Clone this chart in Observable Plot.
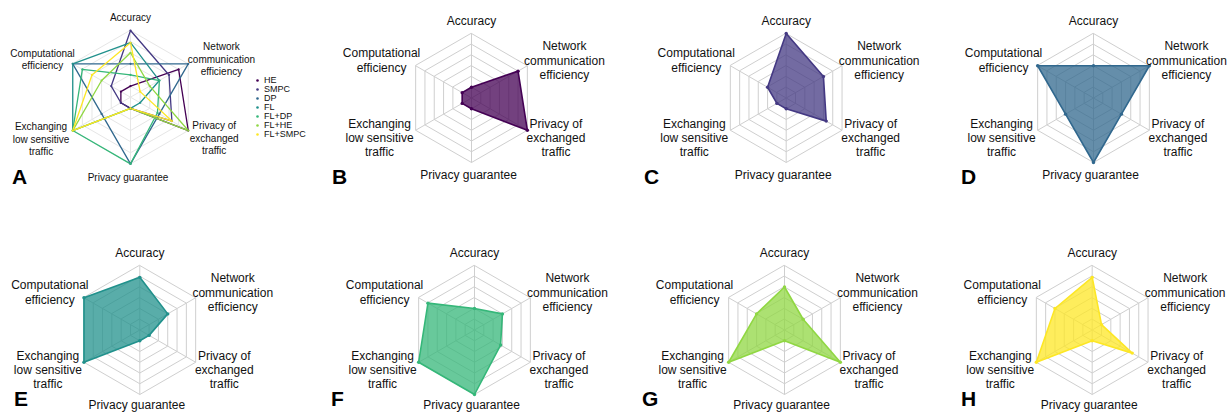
<!DOCTYPE html>
<html>
<head>
<meta charset="utf-8">
<script src="https://cdn.jsdelivr.net/npm/d3@7"></script>
<script src="https://cdn.jsdelivr.net/npm/@observablehq/plot@0.6"></script>
<style>
  html, body { margin: 0; padding: 0; background: #fff; }
  #wrap { position: relative; width: 1229px; height: 412px; overflow: hidden; background: #fff;
          font-family: "Liberation Sans", Arial, sans-serif; color: #000; }
  .panel { position: absolute; }
  .letter { position: absolute; font: bold 21px/0.8 "Liberation Sans", Arial, sans-serif; color: #000; }
</style>
</head>
<body>
<div id="wrap"></div>
<script>
// ---------------- data ----------------
const axisNames = ["Accuracy", "Network communication efficiency", "Privacy of exchanged traffic",
                   "Privacy guarantee", "Exchanging low sensitive traffic", "Computational efficiency"];
const axisLabels = ["Accuracy", "Network\ncommunication\nefficiency", "Privacy of\nexchanged\ntraffic",
                    "Privacy guarantee", "Exchanging\nlow sensitive\ntraffic", "Computational\nefficiency"];
const methods = ["HE", "SMPC", "DP", "FL", "FL+DP", "FL+HE", "FL+SMPC"];
// values per axis, in the order of axisNames (scale 0–6, one grid ring per unit)
const valuesHE     = [1,   5, 6,   1, 1, 1];
const valuesSMPC   = [6,   4, 4.3, 1, 1, 2];
const valuesDP     = [3,   6, 3,   6, 3, 6];
const valuesFL     = [4.9, 3, 1,   1, 6, 6];
const valuesFLDP   = [2,   3, 2.8, 6, 6, 5];
const valuesFLHE   = [4,   2, 6,   1, 6, 3];
const valuesFLSMPC = [4.9, 1, 4.3, 1, 6, 4];
const ringLevels = [1, 2, 3, 4, 5, 6];
const panelLetters = ["A", "B", "C", "D", "E", "F", "G", "H"];
const panelSeries = [methods, ["HE"], ["SMPC"], ["DP"], ["FL"], ["FL+DP"], ["FL+HE"], ["FL+SMPC"]];

const seriesValues = {
  "HE": valuesHE, "SMPC": valuesSMPC, "DP": valuesDP, "FL": valuesFL,
  "FL+DP": valuesFLDP, "FL+HE": valuesFLHE, "FL+SMPC": valuesFLSMPC
};
const MAXV = d3.max(ringLevels);

// ---------------- styling / layout ----------------
const palette = d3.quantize(d3.interpolateViridis, methods.length);
const FONT = "'Liberation Sans', Arial, sans-serif";

// pixel offsets of each axis label from its outer vertex
const labelOffsets = [
  {dx: 0,     dy: -13.5},
  {dx: 37.1,  dy: -5.75},
  {dx: 28.6,  dy: 7.25},
  {dx: -3,    dy: 12},
  {dx: -36.1, dy: 7.25},
  {dx: -34.1, dy: -5.75}
];
const labelOffsetsBottom = labelOffsets.map((o, i) => i === 3 ? {dx: o.dx, dy: 10.3} : o);
const labelOffsetsA = [
  {dx: 0,     dy: -13.3},
  {dx: 33.2,  dy: -5},
  {dx: 25.9,  dy: 7.25},
  {dx: -2.5,  dy: 13.3},
  {dx: -31.7, dy: 8.25},
  {dx: -30.2, dy: -5}
];

const panels = [
  {left: 0,   top: 0,   w: 320, h: 206, cx: 130,   cy: 96.7,  R: 66.7, overview: true},
  {left: 330, top: 0,   w: 300, h: 206, cx: 141,   cy: 97.5,  R: 64.5},
  {left: 640, top: 0,   w: 300, h: 206, cx: 145.7, cy: 97.5,  R: 64.5},
  {left: 930, top: 0,   w: 299, h: 206, cx: 163,   cy: 97.5,  R: 64.5},
  {left: 0,   top: 206, w: 320, h: 206, cx: 139.3, cy: 123.5, R: 64.5, bottom: true},
  {left: 330, top: 206, w: 300, h: 206, cx: 144,   cy: 123.5, R: 64.5, bottom: true},
  {left: 640, top: 206, w: 300, h: 206, cx: 144,   cy: 123.5, R: 64.5, bottom: true},
  {left: 930, top: 206, w: 299, h: 206, cx: 161.7, cy: 123.5, R: 64.5, bottom: true}
];
const letterPos = [
  {x: 12, y: 169.3}, {x: 332, y: 169.3}, {x: 644, y: 169.3}, {x: 961, y: 169.3},
  {x: 14, y: 391.4}, {x: 331, y: 391.4}, {x: 642, y: 391.4}, {x: 961, y: 391.4}
];

const ang = i => i * Math.PI / 3;
const px = (r, i) => r * Math.sin(ang(i));
const py = (r, i) => r * Math.cos(ang(i));

function radar(cfg, series) {
  const k = cfg.R / MAXV;
  const ov = !!cfg.overview;
  const ringPts = ringLevels.flatMap(level => axisNames.map((a, i) => ({level, i})));
  const pts = series.flatMap(m => seriesValues[m].map((v, i) => ({method: m, i, v})));
  const offs = ov ? labelOffsetsA : (cfg.bottom ? labelOffsetsBottom : labelOffsets);
  const gridColor = ov ? "#e6e6e6" : "#cfcfcf";
  const marks = [
    Plot.line(ringPts, {
      x: d => px(d.level, d.i), y: d => py(d.level, d.i), z: "level",
      curve: "linear-closed", stroke: gridColor, strokeWidth: 1
    }),
    Plot.link(axisNames, {
      x1: 0, y1: 0, x2: (d, i) => px(MAXV, i), y2: (d, i) => py(MAXV, i),
      stroke: gridColor, strokeWidth: 1
    }),
    Plot.line(pts, {
      x: d => px(d.v, d.i), y: d => py(d.v, d.i), z: "method",
      stroke: "method", fill: ov ? "none" : "method", fillOpacity: 0.75,
      strokeWidth: ov ? 1.3 : 1.6, curve: "linear-closed", strokeLinejoin: "round"
    }),
    Plot.dot(pts, {
      x: d => px(d.v, d.i), y: d => py(d.v, d.i), fill: "method", r: ov ? 1.1 : 1.7
    }),
    ...axisLabels.map((lab, i) => Plot.text([lab], {
      x: px(MAXV, i), y: py(MAXV, i), text: d => d,
      dx: offs[i].dx, dy: offs[i].dy,
      textAnchor: "middle", lineAnchor: "middle",
      fontSize: ov ? 10 : 12, lineHeight: ov ? 1.23 : 1.17, fill: "#111"
    }))
  ];
  return Plot.plot({
    width: cfg.w, height: cfg.h, margin: 0,
    x: {domain: [-cfg.cx / k, (cfg.w - cfg.cx) / k], axis: null},
    y: {domain: [-(cfg.h - cfg.cy) / k, cfg.cy / k], axis: null},
    color: {domain: methods, range: palette},
    style: {fontFamily: FONT, background: "transparent", overflow: "visible", color: "#111"},
    marks
  });
}

const wrap = document.getElementById("wrap");
panels.forEach((cfg, p) => {
  const div = document.createElement("div");
  div.className = "panel";
  div.style.left = cfg.left + "px";
  div.style.top = cfg.top + "px";
  div.appendChild(radar(cfg, panelSeries[p]));
  wrap.appendChild(div);

  const L = document.createElement("div");
  L.className = "letter";
  L.textContent = panelLetters[p];
  L.style.left = letterPos[p].x + "px";
  L.style.top = letterPos[p].y + "px";
  wrap.appendChild(L);
});

// legend for panel A
const legend = Plot.plot({
  width: 70, height: 69, marginTop: 5, marginBottom: 5, marginLeft: 3, marginRight: 0,
  x: {domain: [0, 1], axis: null},
  y: {type: "point", domain: methods, padding: 0, axis: null},
  color: {domain: methods, range: palette},
  style: {fontFamily: FONT, background: "transparent", overflow: "visible", color: "#111"},
  marks: [
    Plot.dot(methods, {x: 0, y: d => d, fill: d => d, r: 1.3}),
    Plot.text(methods, {x: 0, y: d => d, text: d => d, dx: 6.5, textAnchor: "start", fontSize: 9, fill: "#111"})
  ]
});
const lg = document.createElement("div");
lg.className = "panel";
lg.style.left = "253.7px";
lg.style.top = "72.3px";
lg.appendChild(legend);
wrap.appendChild(lg);
</script>
</body>
</html>
